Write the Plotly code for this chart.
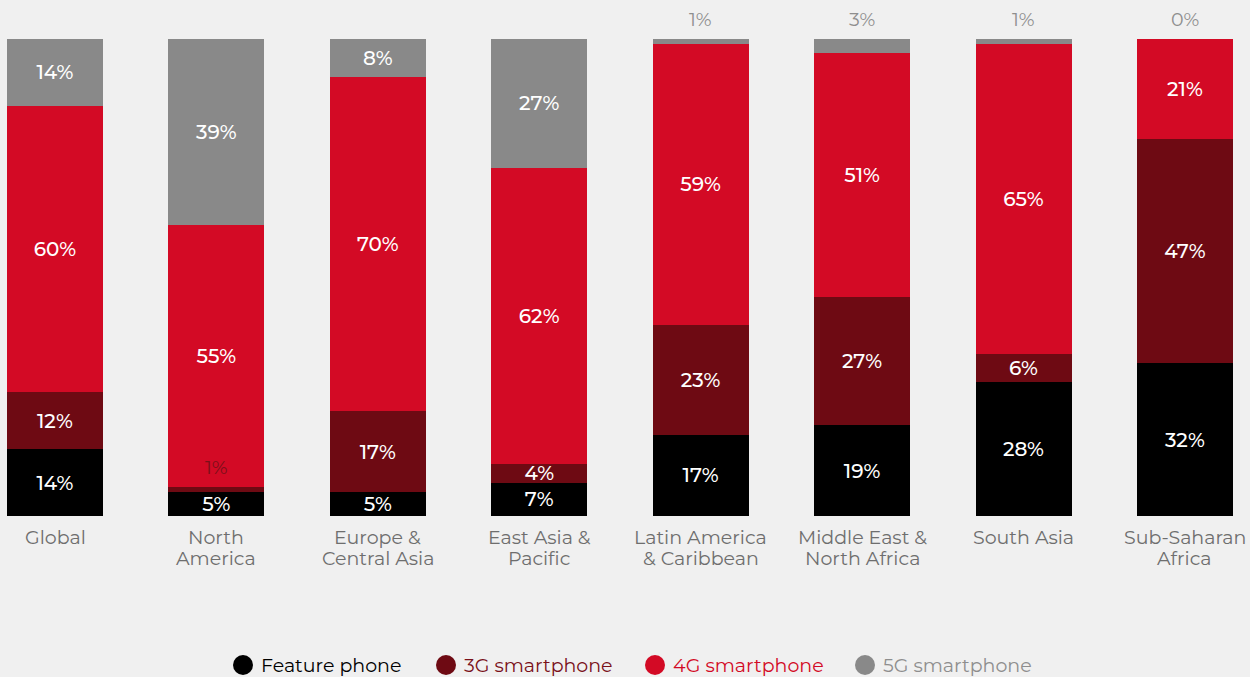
import plotly.graph_objects as go

regions = ["Global", "North<br>America", "Europe &<br>Central Asia", "East Asia &<br>Pacific",
           "Latin America<br>& Caribbean", "Middle East &<br>North Africa", "South Asia",
           "Sub-Saharan<br>Africa"]
feature_phone = [14, 5, 5, 7, 17, 19, 28, 32]
smart_3g = [12, 1, 17, 4, 23, 27, 6, 47]
smart_4g = [60, 55, 70, 62, 59, 51, 65, 21]
smart_5g = [14, 39, 8, 27, 1, 3, 1, 0]

series = [
    ("Feature phone", feature_phone, "#000000", "#000000"),
    ("3G smartphone", smart_3g, "#6e0a13", "#7a1019"),
    ("4G smartphone", smart_4g, "#d30a25", "#d30a25"),
    ("5G smartphone", smart_5g, "#898989", "#8e8e8e"),
]

FONT = "Montserrat, Lato, sans-serif"
SMALL = 3  # segments this thin get their label outside the bar

W, H = 1250, 677
M_TOP, M_BOT = 39, 161
PLOT_H = H - M_TOP - M_BOT


def paper_y(py):
    """Convert a pixel row (from the top of the page) to paper y."""
    return (H - M_BOT - py) / PLOT_H


x_idx = list(range(len(regions)))
fig = go.Figure()
annotations = []
shapes = []
base = [0] * len(regions)
for name, vals, color, text_color in series:
    texts = [f"{v}%" if v > SMALL else "" for v in vals]
    fig.add_trace(go.Bar(
        x=x_idx, y=vals, name=name, marker=dict(color=color, line=dict(width=0)),
        text=texts, textposition="inside", insidetextanchor="middle", textangle=0,
        constraintext="none",
        textfont=dict(color="white", size=20, family=FONT, weight=500),
        showlegend=False, hoverinfo="skip",
    ))
    for i, v in enumerate(vals):
        if v <= SMALL:
            top = base[i] + v
            if top >= 99.5:
                annotations.append(dict(x=i, y=100, yref="y", xref="x", text=f"{v}%",
                                        showarrow=False, yanchor="bottom", yshift=6,
                                        font=dict(color="#8e8e8e", size=19, family=FONT)))
            else:
                annotations.append(dict(x=i, y=top, yref="y", xref="x", text=f"{v}%",
                                        showarrow=False, yanchor="bottom", yshift=6,
                                        font=dict(color="#7a1019", size=19, family=FONT)))
    base = [b + v for b, v in zip(base, vals)]

# category labels, one annotation per line to keep the lines tight
for i, label in enumerate(regions):
    for j, line in enumerate(label.split("<br>")):
        annotations.append(dict(x=i, xref="x", y=paper_y(537 + 21 * j), yref="paper",
                                text=line, showarrow=False, yanchor="middle",
                                font=dict(size=19, color="#6e6e6e", family=FONT)))

# legend row: round swatches with labels tinted in the series colour
legend_x = [243, 446, 655, 865]
for (name, vals, color, text_color), cx in zip(series, legend_x):
    shapes.append(dict(type="circle", xref="paper", yref="paper",
                       x0=(cx - 10) / W, x1=(cx + 10) / W,
                       y0=paper_y(675), y1=paper_y(655),
                       fillcolor=color, line=dict(width=0)))
    annotations.append(dict(x=(cx + 16) / W, xref="paper", y=paper_y(665), yref="paper",
                            text=name, showarrow=False, xanchor="left", yanchor="middle",
                            font=dict(size=19, color=text_color, family=FONT)))

fig.update_layout(
    barmode="stack", bargap=0.405,
    width=W, height=H,
    paper_bgcolor="#f0f0f0", plot_bgcolor="#f0f0f0",
    margin=dict(l=0, r=0, t=M_TOP, b=M_BOT),
    font=dict(family=FONT, size=19, color="#6e6e6e"),
    showlegend=False,
    xaxis=dict(range=[-0.3407, 7.403], tickvals=x_idx, showticklabels=False,
               showgrid=False, zeroline=False, showline=False, ticks="", automargin=False),
    yaxis=dict(range=[0, 100], visible=False, showgrid=False, automargin=False),
    annotations=annotations,
    shapes=shapes,
)

fig.write_html("out.html")
